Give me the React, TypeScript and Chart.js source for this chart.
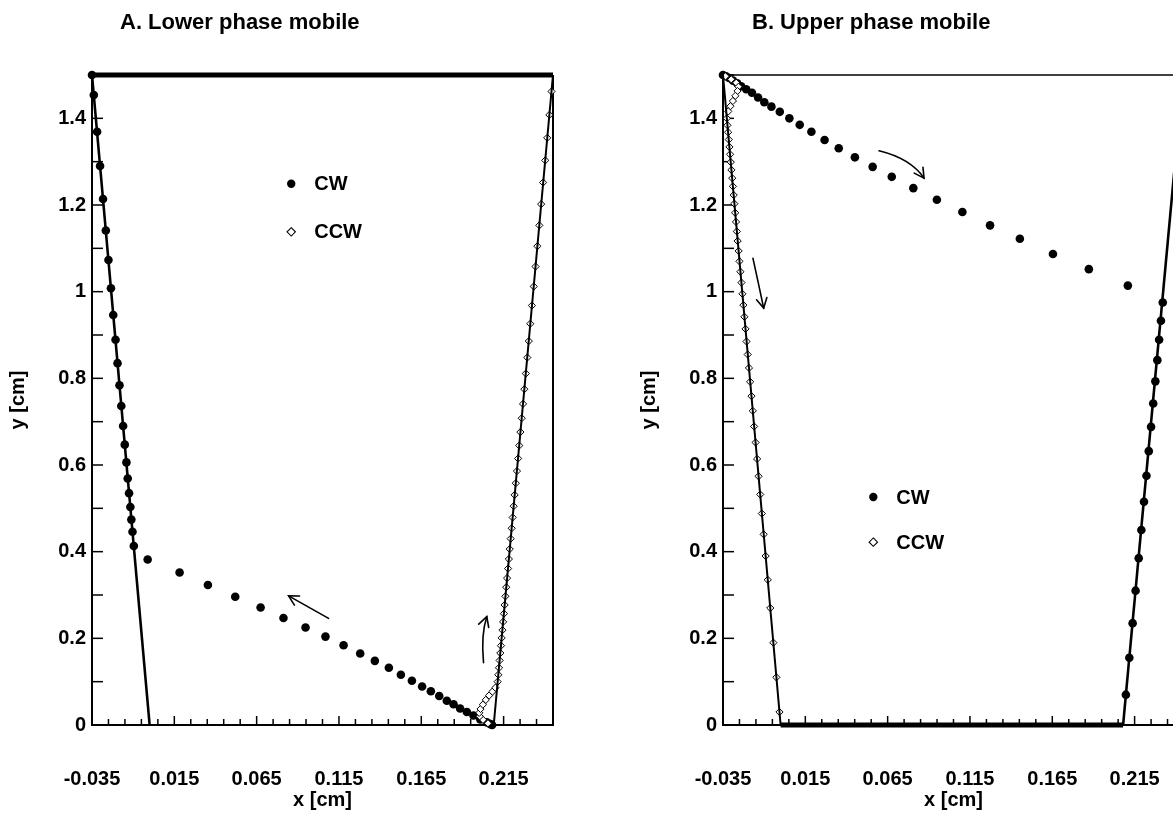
import React, { useEffect, useRef } from 'react';
import { Chart, registerables } from 'chart.js';

Chart.register(...registerables);

// ---------- axes ----------
const X_MIN = -0.035;
const X_MAX = 0.245;
const Y_MIN = 0;
const Y_MAX = 1.5;
const xTickLabels = [-0.035, 0.015, 0.065, 0.115, 0.165, 0.215];
const yTickLabels = [0, 0.2, 0.4, 0.6, 0.8, 1, 1.2, 1.4];
const X_MINOR_STEP = 0.01;
const Y_MINOR_STEP = 0.1;

// ---------- Panel A : Lower phase mobile ----------
const wallA_left_x = [-0.035, 0.0];
const wallA_left_y = [1.5, 0];
const wallA_right_x = [0.245, 0.209];
const wallA_right_y = [1.5, 0];
const topA_x = [-0.035, 0.245];
const topA_y = [1.5, 1.5];

const cwA_x = [
  -0.035, -0.0339, -0.0319, -0.0301, -0.0283, -0.0266, -0.025, -0.0235, -0.0221, -0.0207,
  -0.0195, -0.0183, -0.0172, -0.0161, -0.0151, -0.0141, -0.0133, -0.0125, -0.0117, -0.0111,
  -0.0104, -0.0096, -0.0012, 0.0182, 0.0354, 0.052, 0.0674, 0.0813, 0.0947, 0.1068,
  0.1178, 0.1279, 0.1368, 0.1453, 0.1526, 0.1593, 0.1655, 0.1708, 0.1759, 0.1805,
  0.1846, 0.1886, 0.1927, 0.1967, 0.2008, 0.2048, 0.207, 0.208,
];
const cwA_y = [
  1.5, 1.454, 1.369, 1.29, 1.214, 1.141, 1.073, 1.008, 0.946, 0.889,
  0.835, 0.784, 0.736, 0.69, 0.647, 0.606, 0.569, 0.535, 0.503, 0.474,
  0.446, 0.413, 0.382, 0.352, 0.323, 0.296, 0.271, 0.247, 0.225, 0.204,
  0.184, 0.165, 0.148, 0.132, 0.116, 0.102, 0.089, 0.078, 0.067, 0.056,
  0.048, 0.038, 0.03, 0.022, 0.013, 0.006, 0.002, 0,
];

const ccwA_x = [
  0.2055, 0.2025, 0.2005, 0.2002, 0.201, 0.2024, 0.2042, 0.2062, 0.2082, 0.21,
  0.2114, 0.2118, 0.2122, 0.2126, 0.213, 0.2134, 0.2138, 0.2143, 0.2147, 0.2152,
  0.2156, 0.2161, 0.2166, 0.2171, 0.2177, 0.2182, 0.2187, 0.2193, 0.2199, 0.2205,
  0.2211, 0.2217, 0.2224, 0.2231, 0.2238, 0.2245, 0.2252, 0.226, 0.2268, 0.2276,
  0.2285, 0.2294, 0.2303, 0.2312, 0.2322, 0.2333, 0.2344, 0.2355, 0.2367, 0.2378,
  0.239, 0.2403, 0.2415, 0.2428, 0.2441,
];
const ccwA_y = [
  0.004, 0.012, 0.02, 0.028, 0.037, 0.047, 0.058, 0.068, 0.077, 0.086,
  0.1, 0.116, 0.132, 0.149, 0.166, 0.183, 0.201, 0.219, 0.238, 0.257,
  0.277, 0.297, 0.318, 0.339, 0.361, 0.383, 0.406, 0.43, 0.454, 0.479,
  0.505, 0.531, 0.558, 0.586, 0.615, 0.645, 0.676, 0.708, 0.741, 0.775,
  0.811, 0.848, 0.886, 0.926, 0.968, 1.012, 1.058, 1.105, 1.153, 1.202,
  1.252, 1.303, 1.355, 1.408, 1.462,
];

// ---------- Panel B : Upper phase mobile ----------
const wallB_left_x = [-0.035, 0.0];
const wallB_left_y = [1.5, 0];
const wallB_right_x = [0.208, 0.2445];
const wallB_right_y = [0, 1.5];
const bottomB_x = [0.0, 0.208];
const bottomB_y = [0, 0];

const cwB_x = [
  0.2097, 0.2118, 0.2138, 0.2156, 0.2175, 0.2191, 0.2207, 0.2222, 0.2236, 0.225,
  0.2263, 0.2276, 0.2288, 0.2299, 0.231, 0.2321,
  0.2109, 0.1872, 0.1654, 0.1453, 0.1272, 0.1104, 0.0949, 0.0806, 0.0675, 0.0559,
  0.0451, 0.0353, 0.0267, 0.0187, 0.0116, 0.0053, -0.0005, -0.0056, -0.0099, -0.0137,
  -0.0174, -0.0209, -0.024, -0.0264, -0.0289, -0.0313, -0.0332, -0.035,
];
const cwB_y = [
  0.07, 0.155, 0.235, 0.31, 0.385, 0.45, 0.515, 0.575, 0.632, 0.688,
  0.742, 0.793, 0.842, 0.889, 0.933, 0.975,
  1.014, 1.052, 1.087, 1.122, 1.153, 1.184, 1.212, 1.239, 1.265, 1.288,
  1.31, 1.331, 1.35, 1.369, 1.385, 1.4, 1.415, 1.427, 1.437, 1.448,
  1.459, 1.467, 1.474, 1.481, 1.487, 1.493, 1.497, 1.5,
];

const ccwB_x = [
  -0.0335, -0.03, -0.027, -0.0256, -0.0262, -0.0275, -0.029, -0.0305, -0.0318,
  -0.0327, -0.0323, -0.0319, -0.0315, -0.0311, -0.0307, -0.0303, -0.0299, -0.0294, -0.029,
  -0.0285, -0.0281, -0.0276, -0.0271, -0.0266, -0.0261, -0.0255, -0.025, -0.0244, -0.0238,
  -0.0232, -0.0226, -0.022, -0.0213, -0.0207, -0.02, -0.0192, -0.0185, -0.0177, -0.0169,
  -0.0161, -0.0152, -0.0143, -0.0134, -0.0124, -0.0114, -0.0103, -0.0091, -0.0078, -0.0063,
  -0.0044, -0.0026, -0.0007,
];
const ccwB_y = [
  1.497, 1.49, 1.482, 1.473, 1.463, 1.452, 1.44, 1.428, 1.416,
  1.4, 1.384, 1.368, 1.351, 1.334, 1.317, 1.299, 1.281, 1.262, 1.243,
  1.223, 1.203, 1.182, 1.161, 1.139, 1.117, 1.094, 1.07, 1.046, 1.021,
  0.995, 0.969, 0.942, 0.914, 0.885, 0.855, 0.824, 0.792, 0.759, 0.725,
  0.689, 0.652, 0.614, 0.574, 0.532, 0.488, 0.44, 0.39, 0.335, 0.27,
  0.19, 0.11, 0.03,
];

// ---------- annotations (hand-drawn arrows, in data units) ----------
const arrowsA = [
  { tail: [0.1087, 0.246], ctrl: [0.0966, 0.272], head: [0.0844, 0.298] },
  { tail: [0.2028, 0.144], ctrl: [0.2012, 0.21], head: [0.2048, 0.25] },
];
const arrowsB = [
  { tail: [0.0598, 1.325], ctrl: [0.079, 1.307], head: [0.0871, 1.262] },
  { tail: [-0.0168, 1.077], ctrl: [-0.0135, 1.02], head: [-0.0103, 0.962] },
];
const legendA = { x: 0.086, yCW: 1.249, yCCW: 1.138 };
const legendB = { x: 0.0563, yCW: 0.526, yCCW: 0.422 };

// ---------- helpers ----------
const FONT = '"Liberation Sans", Arial, Helvetica, sans-serif';
const zip = (xs: number[], ys: number[]) => xs.map((x, i) => ({ x, y: ys[i] }));
const near = (a: number, b: number) => Math.abs(a - b) < 1e-6;
const fmt = (v: number) => String(Math.round(v * 1000) / 1000);
function makeTicks(min: number, max: number, step: number) {
  const out: { value: number }[] = [];
  const n = Math.round((max - min) / step);
  for (let i = 0; i <= n; i++) out.push({ value: Math.round((min + i * step) * 1e6) / 1e6 });
  return out;
}

const decorPlugin = {
  id: 'decor',
  beforeDatasetsDraw(chart: any, _args: any, opts: any) {
    const { ctx, chartArea: a, scales } = chart;
    ctx.save();
    ctx.strokeStyle = '#000';
    ctx.lineCap = 'butt';
    ctx.lineWidth = 2;
    ctx.beginPath();
    ctx.moveTo(a.left, a.top);
    ctx.lineTo(a.left, a.bottom);
    ctx.lineTo(a.right, a.bottom);
    ctx.lineTo(a.right, a.top);
    ctx.stroke();
    ctx.lineWidth = opts.topWidth || 1.5;
    ctx.beginPath();
    ctx.moveTo(a.left, a.top);
    ctx.lineTo(a.right, a.top);
    ctx.stroke();
    ctx.lineWidth = 1.5;
    scales.x.ticks.forEach((t: any) => {
      const px = scales.x.getPixelForValue(t.value);
      const major = xTickLabels.some((v) => near(v, t.value));
      ctx.beginPath();
      ctx.moveTo(px, a.bottom);
      ctx.lineTo(px, a.bottom - (major ? 9 : 6));
      ctx.stroke();
    });
    scales.y.ticks.forEach((t: any) => {
      const py = scales.y.getPixelForValue(t.value);
      ctx.beginPath();
      ctx.moveTo(a.left, py);
      ctx.lineTo(a.left + 11, py);
      ctx.stroke();
    });
    ctx.restore();
  },
  afterDatasetsDraw(chart: any, _args: any, opts: any) {
    const { ctx, scales } = chart;
    const X = (v: number) => scales.x.getPixelForValue(v);
    const Y = (v: number) => scales.y.getPixelForValue(v);
    ctx.save();
    ctx.strokeStyle = '#000';
    ctx.fillStyle = '#000';
    ctx.lineWidth = 1.6;
    ctx.lineCap = 'round';
    (opts.arrows || []).forEach((ar: any) => {
      const tx = X(ar.tail[0]), ty = Y(ar.tail[1]);
      const cx = X(ar.ctrl[0]), cy = Y(ar.ctrl[1]);
      const hx = X(ar.head[0]), hy = Y(ar.head[1]);
      ctx.beginPath();
      ctx.moveTo(tx, ty);
      ctx.quadraticCurveTo(cx, cy, hx, hy);
      ctx.stroke();
      const ang = Math.atan2(hy - cy, hx - cx);
      const L = 11, spread = 0.5;
      ctx.beginPath();
      ctx.moveTo(hx - L * Math.cos(ang - spread), hy - L * Math.sin(ang - spread));
      ctx.lineTo(hx, hy);
      ctx.lineTo(hx - L * Math.cos(ang + spread), hy - L * Math.sin(ang + spread));
      ctx.stroke();
    });
    const lg = opts.legend;
    if (lg) {
      const mx = X(lg.x);
      ctx.beginPath();
      ctx.arc(mx, Y(lg.yCW), 4.2, 0, Math.PI * 2);
      ctx.fill();
      const cy2 = Y(lg.yCCW);
      ctx.lineWidth = 1.1;
      ctx.fillStyle = '#fff';
      ctx.beginPath();
      ctx.moveTo(mx, cy2 - 4.2);
      ctx.lineTo(mx + 4.2, cy2);
      ctx.lineTo(mx, cy2 + 4.2);
      ctx.lineTo(mx - 4.2, cy2);
      ctx.closePath();
      ctx.fill();
      ctx.stroke();
      ctx.fillStyle = '#000';
      ctx.font = `bold 20px ${FONT}`;
      ctx.textBaseline = 'middle';
      ctx.textAlign = 'left';
      ctx.fillText('CW', mx + 23, Y(lg.yCW) + 1);
      ctx.fillText('CCW', mx + 23, cy2 + 1);
    }
    ctx.restore();
  },
};

function wall(xs: number[], ys: number[], width = 2.6) {
  return {
    data: zip(xs, ys),
    showLine: true,
    borderColor: '#000',
    borderWidth: width,
    pointRadius: 0,
    fill: false,
    order: 0,
    clip: false as any,
  };
}
function cw(xs: number[], ys: number[]) {
  return {
    data: zip(xs, ys),
    showLine: false,
    pointStyle: 'circle',
    pointRadius: 4.3,
    pointBackgroundColor: '#000',
    pointBorderColor: '#000',
    pointBorderWidth: 0,
    order: 2,
    clip: false as any,
  };
}
function ccw(xs: number[], ys: number[]) {
  return {
    data: zip(xs, ys),
    showLine: false,
    pointStyle: 'rectRot',
    pointRadius: 3.6,
    pointBackgroundColor: '#fff',
    pointBorderColor: '#000',
    pointBorderWidth: 1,
    order: 1,
    clip: false as any,
  };
}

const tickFont = { family: FONT, size: 20, weight: 'bold' as const };

function buildConfig(panel: 'A' | 'B') {
  const datasets =
    panel === 'A'
      ? [
          wall(topA_x, topA_y, 5),
          wall(wallA_left_x, wallA_left_y),
          wall(wallA_right_x, wallA_right_y, 2),
          cw(cwA_x, cwA_y),
          ccw(ccwA_x, ccwA_y),
        ]
      : [
          wall(bottomB_x, bottomB_y, 5),
          wall(wallB_left_x, wallB_left_y, 2),
          wall(wallB_right_x, wallB_right_y),
          cw(cwB_x, cwB_y),
          ccw(ccwB_x, ccwB_y),
        ];
  return {
    type: 'scatter' as const,
    data: { datasets },
    plugins: [decorPlugin],
    options: {
      animation: false as const,
      responsive: false,
      devicePixelRatio: 1,
      layout: { padding: { left: 0, right: 47, top: 75, bottom: 0 } },
      plugins: {
        legend: { display: false },
        tooltip: { enabled: false },
        decor: {
          arrows: panel === 'A' ? arrowsA : arrowsB,
          legend: panel === 'A' ? legendA : legendB,
          topWidth: panel === 'A' ? 2 : 1.5,
        },
      },
      scales: {
        x: {
          type: 'linear' as const,
          min: X_MIN,
          max: X_MAX,
          afterBuildTicks: (s: any) => {
            s.ticks = makeTicks(X_MIN, X_MAX, X_MINOR_STEP);
          },
          afterFit: (s: any) => {
            s.height = 90;
          },
          ticks: {
            autoSkip: false,
            maxRotation: 0,
            padding: 42,
            color: '#000',
            font: tickFont,
            callback: (v: any) => (xTickLabels.some((t) => near(t, v)) ? fmt(v) : ''),
          },
          grid: { display: false, drawTicks: false },
          border: { display: false },
          title: {
            display: true,
            text: 'x [cm]',
            color: '#000',
            font: tickFont,
            padding: { top: 0, bottom: 3 },
          },
        },
        y: {
          type: 'linear' as const,
          min: Y_MIN,
          max: Y_MAX,
          afterBuildTicks: (s: any) => {
            s.ticks = makeTicks(Y_MIN, Y_MAX, Y_MINOR_STEP);
          },
          afterFit: (s: any) => {
            s.width = 92;
          },
          ticks: {
            autoSkip: false,
            padding: 6,
            color: '#000',
            font: tickFont,
            callback: (v: any) => (yTickLabels.some((t) => near(t, v)) ? fmt(v) : ''),
          },
          grid: { display: false, drawTicks: false },
          border: { display: false },
          title: {
            display: true,
            text: 'y [cm]',
            color: '#000',
            font: tickFont,
            padding: { top: 6, bottom: 0 },
          },
        },
      },
    },
  };
}

function Panel({ panel, left }: { panel: 'A' | 'B'; left: number }) {
  const ref = useRef<HTMLCanvasElement | null>(null);
  useEffect(() => {
    if (!ref.current) return;
    const chart = new Chart(ref.current, buildConfig(panel) as any);
    return () => chart.destroy();
  }, [panel]);
  return (
    <canvas
      ref={ref}
      width={600}
      height={815}
      style={{ position: 'absolute', left, top: 0, width: 600, height: 815 }}
    />
  );
}

const titleStyle: React.CSSProperties = {
  position: 'absolute',
  top: 8,
  fontFamily: FONT,
  fontWeight: 'bold',
  fontSize: 22,
  color: '#000',
  whiteSpace: 'nowrap',
  lineHeight: '28px',
};

export default function App() {
  return (
    <div
      style={{
        position: 'absolute',
        left: 0,
        top: 0,
        width: 1173,
        height: 815,
        overflow: 'hidden',
        background: '#fff',
      }}
    >
      <Panel panel="A" left={0} />
      <Panel panel="B" left={631} />
      <div style={{ ...titleStyle, left: 120 }}>A. Lower phase mobile</div>
      <div style={{ ...titleStyle, left: 752 }}>B. Upper phase mobile</div>
    </div>
  );
}
